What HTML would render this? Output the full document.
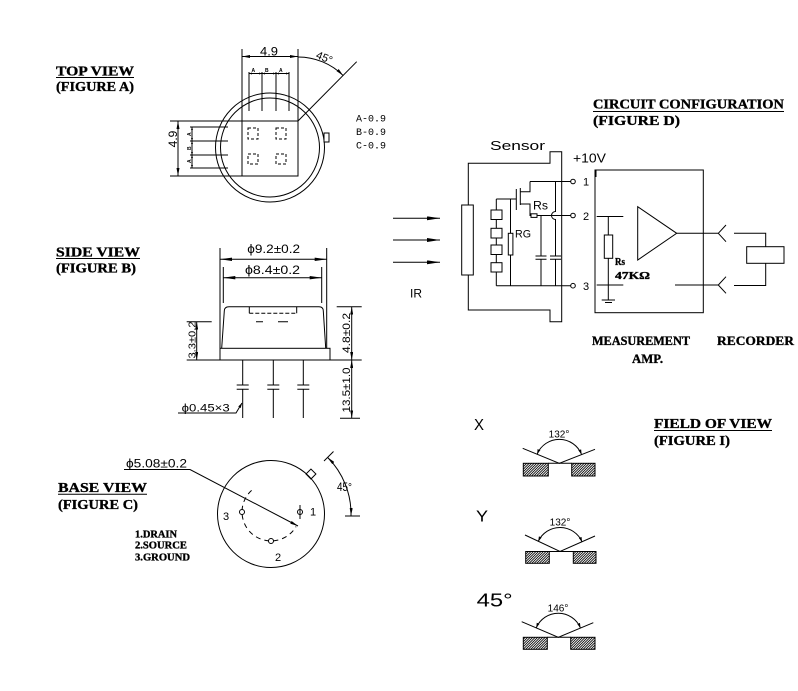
<!DOCTYPE html>
<html><head><meta charset="utf-8">
<style>
html,body{margin:0;padding:0;background:#fff;width:798px;height:691px;overflow:hidden}
svg{display:block}
.t text{font-family:"Liberation Sans","DejaVu Sans",sans-serif;fill:#000;stroke:none}
.t text.b{font-family:"Liberation Serif",serif;font-weight:bold;stroke:#000;stroke-width:0.35}
.t text.m{font-family:"Liberation Mono",monospace}
</style></head><body>
<svg width="798" height="691" viewBox="0 0 798 691" xmlns="http://www.w3.org/2000/svg">
<defs>
<marker id="a3" viewBox="0 0 3 2" refX="3" refY="1" markerWidth="3" markerHeight="2" markerUnits="userSpaceOnUse" orient="auto-start-reverse"><path d="M0 0L3 1L0 2z" fill="#000"/></marker>
<marker id="a5" viewBox="0 0 5 3" refX="5" refY="1.5" markerWidth="5" markerHeight="3" markerUnits="userSpaceOnUse" orient="auto-start-reverse"><path d="M0 0L5 1.5L0 3z" fill="#000"/></marker>
<marker id="a8" viewBox="0 0 8 3" refX="8" refY="1.5" markerWidth="8" markerHeight="3" markerUnits="userSpaceOnUse" orient="auto-start-reverse"><path d="M0 0L8 1.5L0 3z" fill="#000"/></marker>
<marker id="a12" viewBox="0 0 12 3.4" refX="12" refY="1.7" markerWidth="12" markerHeight="3.4" markerUnits="userSpaceOnUse" orient="auto-start-reverse"><path d="M0 0L12 1.7L0 3.4z" fill="#000"/></marker>
<marker id="a13" viewBox="0 0 13 4" refX="13" refY="2" markerWidth="13" markerHeight="4" markerUnits="userSpaceOnUse" orient="auto-start-reverse"><path d="M0 0L13 2L0 4z" fill="#000"/></marker>
<pattern id="h" patternUnits="userSpaceOnUse" width="2.5" height="2.5"><rect width="2.5" height="2.5" fill="#fff"/><path d="M-1 1L1 -1M0 2.5L2.5 0M1.5 3.5L3.5 1.5" stroke="#000" stroke-width="0.8"/></pattern>
</defs>

<g fill="none" stroke="#000" stroke-width="1">
<!-- ===== TOP VIEW ===== -->
<circle cx="270" cy="147.5" r="54.5"/>
<circle cx="270" cy="147.5" r="49.5"/>
<rect x="324" y="133" width="5" height="9" fill="#fff"/>
<rect x="242" y="121" width="56" height="55" fill="#fff"/>
<g stroke-dasharray="3,2">
<rect x="248" y="128" width="10" height="11"/>
<rect x="276" y="128" width="10" height="11"/>
<rect x="248" y="154" width="10" height="10"/>
<rect x="276" y="154" width="10" height="10"/>
</g>
<path d="M242 49V121M298 49V121"/>
<path d="M242 56.5H298" marker-start="url(#a8)" marker-end="url(#a8)"/>
<path d="M249 72V111M262 72V111M276 72V111M289 72V111"/>
<path d="M249 73.5H262" marker-start="url(#a3)" marker-end="url(#a3)"/>
<path d="M262 73.5H276" marker-start="url(#a3)" marker-end="url(#a3)"/>
<path d="M276 73.5H289" marker-start="url(#a3)" marker-end="url(#a3)"/>
<path d="M298 121L356.7 61.7"/>
<path d="M298 57A64 64 0 0 1 343.3 75.7" marker-end="url(#a8)"/>
<path d="M170 121H242M170 176H242"/>
<path d="M178 121V176" marker-start="url(#a8)" marker-end="url(#a8)"/>
<path d="M190 127H228M190 141H228M190 155H228M190 168H228"/>
<path d="M192 127V141" marker-start="url(#a3)" marker-end="url(#a3)"/>
<path d="M192 141V155" marker-start="url(#a3)" marker-end="url(#a3)"/>
<path d="M192 155V168" marker-start="url(#a3)" marker-end="url(#a3)"/>

<!-- ===== SIDE VIEW ===== -->
<path d="M220 248V348M326.7 248V348M223.3 267V303M321.7 267V303"/>
<path d="M220 259.3H326.7" marker-start="url(#a12)" marker-end="url(#a12)"/>
<path d="M223.3 277.7H321.7" marker-start="url(#a12)" marker-end="url(#a12)"/>
<path d="M221.7 348L224.3 311Q224.3 306.7 229 306.7H319Q323.3 306.7 323.3 311L325.7 348"/>
<rect x="220" y="348.3" width="110" height="11.7"/>
<path d="M249.3 306.7V313.3M296.7 306.7V313.3"/>
<path d="M249.3 313.3H296.7" stroke-dasharray="4,2"/>
<path d="M256 321.7H263M278 321.7H288"/>
<path d="M242.7 360V385M242.7 389.3V418M273.3 360V385M273.3 389.3V418M303.3 360V385M303.3 389.3V418"/>
<path d="M236.7 385H248.7M236.7 389.3H248.7M267.3 385H279.3M267.3 389.3H279.3M297.3 385H309.3M297.3 389.3H309.3"/>
<path d="M186.7 321.7H211.7M186.7 360H220"/>
<path d="M196.7 321.7V360" marker-start="url(#a8)" marker-end="url(#a8)"/>
<path d="M336.7 306.7H361.7M330 360H361.7M340 418.3H360"/>
<path d="M351.7 306.7V360" marker-start="url(#a8)" marker-end="url(#a8)"/>
<path d="M351.7 360V418.3" marker-start="url(#a8)" marker-end="url(#a8)"/>
<path d="M178 413H236L242 403" marker-end="url(#a5)"/>

<!-- ===== BASE VIEW ===== -->
<rect x="-3.5" y="-60" width="7" height="7" transform="translate(271 514) rotate(45)" fill="#fff"/>
<circle cx="271" cy="514" r="53.5"/>
<path d="M251.6 490.4A29 29 0 1 0 296.1 526.5" stroke-dasharray="5,4"/>
<circle cx="242" cy="512" r="2.5" fill="#fff"/>
<circle cx="271" cy="541" r="2.5" fill="#fff"/>
<circle cx="300" cy="512" r="2.5" fill="#fff"/>
<path d="M300 505V519"/>
<path d="M124 469.5H190L298 526" marker-end="url(#a8)"/>
<path d="M324 461L333.5 451.5"/>
<path d="M327.6 457.4A80 80 0 0 1 351 516" marker-start="url(#a8)" marker-end="url(#a8)"/>
<path d="M345 516H360"/>

<!-- ===== CIRCUIT ===== -->
<path d="M393 218.3H440" marker-end="url(#a13)"/>
<path d="M393 240H440" marker-end="url(#a13)"/>
<path d="M393 262.3H440" marker-end="url(#a13)"/>
<rect x="461.7" y="205" width="11.6" height="70"/>
<path d="M468.3 205V163.3H550V151.7H561.7V321.7H550V310H468.3V275"/>
<path d="M530 181.5H570.5"/>
<path d="M530 181.5V191.7H520.3"/>
<path d="M520.3 188V205"/>
<path d="M516.3 189V210"/>
<path d="M496.3 199H516.3"/>
<path d="M520.3 204H530V215.5H531"/>
<rect x="531" y="213.8" width="6" height="3.6"/>
<path d="M537 215.5H570.5"/>
<path d="M555.5 181.5V211.5A4 4 0 0 0 555.5 219.5V256"/>
<path d="M541 215.5V256"/>
<path d="M535.5 256H546.5M535.5 259.3H546.5M550 256H561M550 259.3H561"/>
<path d="M541 259.3V285.7M555.5 259.3V285.7"/>
<path d="M496.3 285.7H570.5"/>
<path d="M496.3 199V285.7M510.5 199V285.7"/>
<g fill="#fff">
<rect x="491" y="210" width="11" height="9.5"/>
<rect x="491" y="228.3" width="11" height="9.7"/>
<rect x="491" y="245" width="11" height="9.5"/>
<rect x="491" y="262.7" width="11" height="9.3"/>
<rect x="508.3" y="233.3" width="4.6" height="21.7"/>
<circle cx="573" cy="181.5" r="2.3"/>
<circle cx="573" cy="215.5" r="2.3"/>
<circle cx="573" cy="285.7" r="2.3"/>
</g>
<rect x="595" y="170" width="108.3" height="142.7"/>
<path d="M595.5 170V177" stroke-width="2"/>
<path d="M596.7 216.5H623.3M596.7 285H623.3"/>
<path d="M608.3 216.5V300"/>
<rect x="604.3" y="235" width="8.4" height="23.3" fill="#fff"/>
<path d="M601.7 300H615M605 302.5H612"/>
<path d="M637.7 206.7V260L676.7 233.3Z"/>
<path d="M676.7 233.3H718.3M718.3 233.3L726 225M718.3 233.3L726 241.7"/>
<path d="M675 285H718.3M718.3 285L726 276.7M718.3 285L726 293.3"/>
<path d="M734 233.3H765.7V246.7M765.7 263.3V285.5H734"/>
<rect x="746.7" y="246.7" width="37.3" height="16.6"/>

<!-- ===== FIELD OF VIEW ===== -->
<rect x="523.3" y="463.3" width="25" height="12.7" fill="url(#h)"/>
<rect x="571.7" y="463.3" width="23.3" height="12.7" fill="url(#h)"/>
<path d="M548.3 463.3H571.7"/>
<path d="M522.7 448.3L559.3 463.3L595 449.3"/>
<path d="M537.1 454.2A24 24 0 0 1 581.6 454.5" marker-start="url(#a5)" marker-end="url(#a5)"/>

<rect x="525.7" y="551.5" width="23.6" height="11.8" fill="url(#h)"/>
<rect x="573.3" y="551.5" width="22.7" height="11.8" fill="url(#h)"/>
<path d="M549.3 551.5H573.3"/>
<path d="M525 535L560 551.5L595 536"/>
<path d="M538.2 541.5A24 24 0 0 1 582.1 542" marker-start="url(#a5)" marker-end="url(#a5)"/>

<rect x="523.3" y="637.3" width="24" height="12" fill="url(#h)"/>
<rect x="570.7" y="637.3" width="24.3" height="12" fill="url(#h)"/>
<path d="M547.3 637.3H570.7"/>
<path d="M521.7 621.7L558.3 637.3L593.3 622.7"/>
<path d="M536.2 627.9A24 24 0 0 1 580.5 628.1" marker-start="url(#a5)" marker-end="url(#a5)"/>

<!-- underlines -->
<path d="M56 77.5H134M56 258.5H140M58 494.3H147M593 111.5H784M654 430.5H772"/>
</g>

<g class="t">
<!-- labels -->
<text class="b" x="56" y="75.5" font-size="14" textLength="78" lengthAdjust="spacingAndGlyphs">TOP  VIEW</text>
<text class="b" x="56" y="91" font-size="14" textLength="78" lengthAdjust="spacingAndGlyphs">(FIGURE  A)</text>
<text class="b" x="56" y="256.5" font-size="14" textLength="84" lengthAdjust="spacingAndGlyphs">SIDE  VIEW</text>
<text class="b" x="56" y="272.5" font-size="14" textLength="80" lengthAdjust="spacingAndGlyphs">(FIGURE  B)</text>
<text class="b" x="58" y="492" font-size="14" textLength="89" lengthAdjust="spacingAndGlyphs">BASE  VIEW</text>
<text class="b" x="58" y="509" font-size="14" textLength="80" lengthAdjust="spacingAndGlyphs">(FIGURE  C)</text>
<text class="b" x="593" y="108.5" font-size="14" textLength="191" lengthAdjust="spacingAndGlyphs">CIRCUIT  CONFIGURATION</text>
<text class="b" x="593" y="125" font-size="14" textLength="87" lengthAdjust="spacingAndGlyphs">(FIGURE  D)</text>
<text class="b" x="654" y="428" font-size="14" textLength="118" lengthAdjust="spacingAndGlyphs">FIELD  OF  VIEW</text>
<text class="b" x="654" y="445" font-size="14" textLength="76" lengthAdjust="spacingAndGlyphs">(FIGURE  I)</text>
<text class="b" x="592" y="345" font-size="13" textLength="98" lengthAdjust="spacingAndGlyphs">MEASUREMENT</text>
<text class="b" x="717" y="345" font-size="13" textLength="77" lengthAdjust="spacingAndGlyphs">RECORDER</text>
<text class="b" x="632" y="363" font-size="13" textLength="31" lengthAdjust="spacingAndGlyphs">AMP.</text>
<text class="b" x="135" y="537.5" font-size="10" textLength="42" lengthAdjust="spacingAndGlyphs">1.DRAIN</text>
<text class="b" x="135" y="548.5" font-size="10" textLength="52" lengthAdjust="spacingAndGlyphs">2.SOURCE</text>
<text class="b" x="135" y="560.5" font-size="10" textLength="55" lengthAdjust="spacingAndGlyphs">3.GROUND</text>

<!-- top view -->
<text x="260" y="55.5" font-size="12" textLength="18" lengthAdjust="spacingAndGlyphs">4.9</text>
<text transform="translate(177 139) rotate(-90)" text-anchor="middle" font-size="12">4.9</text>
<text transform="translate(323 61) rotate(22)" text-anchor="middle" font-size="11">45°</text>
<text x="251.5" y="72" font-size="5" font-weight="bold">A</text>
<text x="265" y="72" font-size="5" font-weight="bold">B</text>
<text x="279" y="72" font-size="5" font-weight="bold">A</text>
<text transform="translate(191 136) rotate(-90)" font-size="5" font-weight="bold">A</text>
<text transform="translate(191 150) rotate(-90)" font-size="5" font-weight="bold">B</text>
<text transform="translate(191 163) rotate(-90)" font-size="5" font-weight="bold">A</text>
<text class="m" x="356" y="121.5" font-size="10" textLength="30" lengthAdjust="spacingAndGlyphs">A-0.9</text>
<text class="m" x="356" y="135" font-size="10" textLength="30" lengthAdjust="spacingAndGlyphs">B-0.9</text>
<text class="m" x="356" y="148.5" font-size="10" textLength="30" lengthAdjust="spacingAndGlyphs">C-0.9</text>

<!-- side view -->
<text x="247.3" y="253" font-size="12" textLength="52.7" lengthAdjust="spacingAndGlyphs">ϕ9.2±0.2</text>
<text x="245" y="274" font-size="12" textLength="55" lengthAdjust="spacingAndGlyphs">ϕ8.4±0.2</text>
<text transform="translate(195.5 340) rotate(-90)" text-anchor="middle" font-size="10" textLength="37" lengthAdjust="spacingAndGlyphs">3.3±0.2</text>
<text transform="translate(350 333) rotate(-90)" text-anchor="middle" font-size="11" textLength="40" lengthAdjust="spacingAndGlyphs">4.8±0.2</text>
<text transform="translate(350 390) rotate(-90)" text-anchor="middle" font-size="11" textLength="45" lengthAdjust="spacingAndGlyphs">13.5±1.0</text>
<text x="181.7" y="411.5" font-size="11" textLength="48" lengthAdjust="spacingAndGlyphs">ϕ0.45×3</text>

<!-- base view -->
<text x="126" y="467.5" font-size="12" textLength="61" lengthAdjust="spacingAndGlyphs">ϕ5.08±0.2</text>
<text x="223" y="520" font-size="11">3</text>
<text x="310" y="515.5" font-size="11">1</text>
<text x="275" y="561" font-size="11">2</text>
<text x="337" y="491" font-size="12" textLength="15" lengthAdjust="spacingAndGlyphs">45°</text>

<!-- circuit -->
<text x="490" y="150" font-size="13" textLength="55" lengthAdjust="spacingAndGlyphs">Sensor</text>
<text x="573" y="162.5" font-size="13" textLength="33" lengthAdjust="spacingAndGlyphs">+10V</text>
<text x="583" y="185.5" font-size="11">1</text>
<text x="583" y="220" font-size="11">2</text>
<text x="583" y="290" font-size="11">3</text>
<text x="533" y="209.5" font-size="12" textLength="15" lengthAdjust="spacingAndGlyphs">Rs</text>
<text x="515" y="237.5" font-size="11" textLength="16" lengthAdjust="spacingAndGlyphs">RG</text>
<text x="410" y="297.5" font-size="12" textLength="12" lengthAdjust="spacingAndGlyphs">IR</text>
<text class="b" x="615" y="265" font-size="11" textLength="10" lengthAdjust="spacingAndGlyphs">Rs</text>
<text class="b" x="615" y="279" font-size="11" textLength="35" lengthAdjust="spacingAndGlyphs">47KΩ</text>

<!-- field of view -->
<text x="474" y="430" font-size="16" textLength="10" lengthAdjust="spacingAndGlyphs">X</text>
<text x="476" y="521.7" font-size="16" textLength="12" lengthAdjust="spacingAndGlyphs">Y</text>
<text x="476.7" y="606.7" font-size="18" textLength="36" lengthAdjust="spacingAndGlyphs">45°</text>
<text x="559" y="437.5" text-anchor="middle" font-size="10">132°</text>
<text x="560" y="525.5" text-anchor="middle" font-size="10">132°</text>
<text x="558" y="611.5" text-anchor="middle" font-size="10">146°</text>
</g>
</svg>
</body></html>
